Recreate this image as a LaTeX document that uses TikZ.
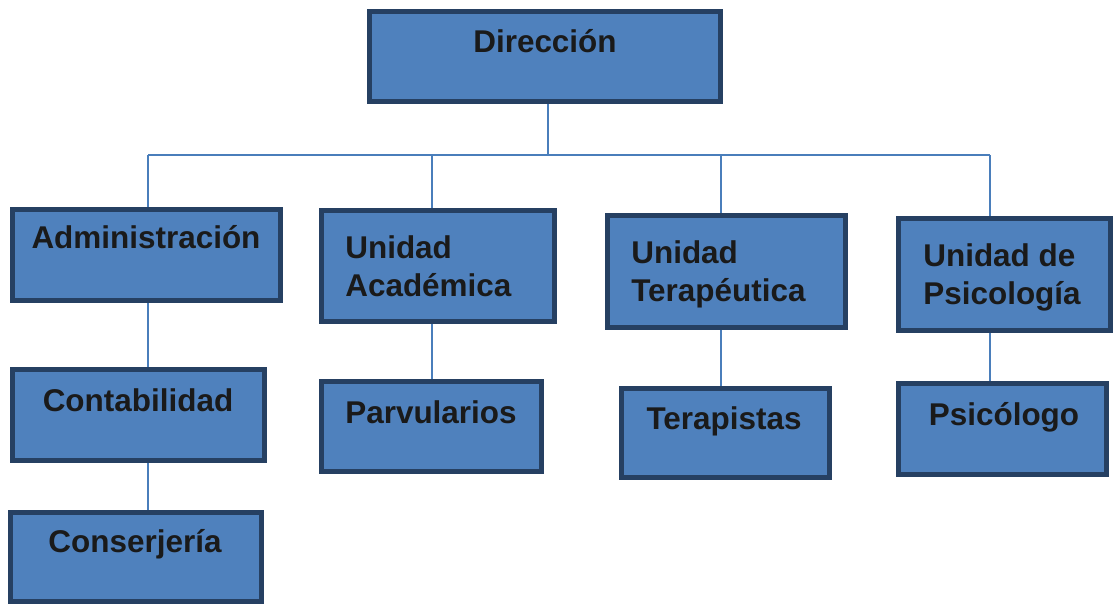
\documentclass[tikz,border=0pt]{standalone}
\usepackage{fontspec}
\setmainfont{Liberation Sans}
\usetikzlibrary{positioning}
\definecolor{boxblue}{RGB}{79,129,189}
\definecolor{boxedge}{RGB}{38,64,98}
\definecolor{linkblue}{RGB}{74,126,187}
\definecolor{textdark}{RGB}{26,26,26}

\begin{document}
\begin{tikzpicture}[
  x=0.02cm, y=-0.02cm,
  orgbox/.style 2 args={
    rectangle, draw=boxedge, fill=boxblue, line width=0.1cm,
    minimum width=#1*0.02cm, minimum height=#2*0.02cm, inner sep=0pt
  },
  orgtext/.style={
    text=textdark, inner sep=0pt,
    font=\fontsize{17.9pt}{21.9pt}\selectfont\bfseries
  },
  link/.style={draw=linkblue, line width=0.04cm},
]
\useasboundingbox (0,0) rectangle (1113,604);

% Boxes
\node[orgbox={351}{90}]  (dir)  at (545,56.5)   {};
\node[orgbox={268}{91}]  (adm)  at (146.5,255)  {};
\node[orgbox={233}{111}] (aca)  at (438,266)    {};
\node[orgbox={238}{112}] (ter)  at (726.5,271.5){};
\node[orgbox={212}{112}] (psi)  at (1004.5,274.5){};
\node[orgbox={252}{91}]  (cont) at (138.5,415)  {};
\node[orgbox={251}{89}]  (cons) at (136,557)    {};
\node[orgbox={220}{90}]  (parv) at (431.5,426.5){};
\node[orgbox={208}{89}]  (tera) at (725.5,433)  {};
\node[orgbox={208}{91}]  (psic) at (1002.5,429) {};

% Labels (base = last line)
\node[orgtext, anchor=base] (dirT)  at (545,53)  {Dirección};
\node[orgtext, anchor=base] (admT)  at (146,249) {Administración};
\node[orgtext, anchor=base west, align=left] (acaT) at (345,297) {Unidad\\Académica};
\node[orgtext, anchor=base west, align=left] (terT) at (631,302) {Unidad\\Terapéutica};
\node[orgtext, anchor=base west, align=left] (psiT) at (923,305) {Unidad de\\Psicología};
\node[orgtext, anchor=base] (contT) at (138,412) {Contabilidad};
\node[orgtext, anchor=base] (consT) at (135,553) {Conserjería};
\node[orgtext, anchor=base] (parvT) at (431,424) {Parvularios};
\node[orgtext, anchor=base] (teraT) at (724,430) {Terapistas};
\node[orgtext, anchor=base] (psicT) at (1004,426){Psicólogo};

% Bus taps
\def\bus{155}
\coordinate (tapAdm) at (148,\bus);
\coordinate (tapAca) at (432,\bus);
\coordinate (tapDir) at (548,\bus);
\coordinate (tapTer) at (721,\bus);
\coordinate (tapPsi) at (990,\bus);

% Connectors
\draw[link] (tapAdm) -- (tapPsi);
\draw[link] (tapDir |- dir.south) -- (tapDir);
\draw[link] (tapAdm) -- (tapAdm |- adm.north);
\draw[link] (tapAca) -- (tapAca |- aca.north);
\draw[link] (tapTer) -- (tapTer |- ter.north);
\draw[link] (tapPsi) -- (tapPsi |- psi.north);
\draw[link] (tapAdm |- adm.south)  -- (tapAdm |- cont.north);
\draw[link] (tapAdm |- cont.south) -- (tapAdm |- cons.north);
\draw[link] (tapAca |- aca.south)  -- (tapAca |- parv.north);
\draw[link] (tapTer |- ter.south)  -- (tapTer |- tera.north);
\draw[link] (tapPsi |- psi.south)  -- (tapPsi |- psic.north);

\end{tikzpicture}
\end{document}
